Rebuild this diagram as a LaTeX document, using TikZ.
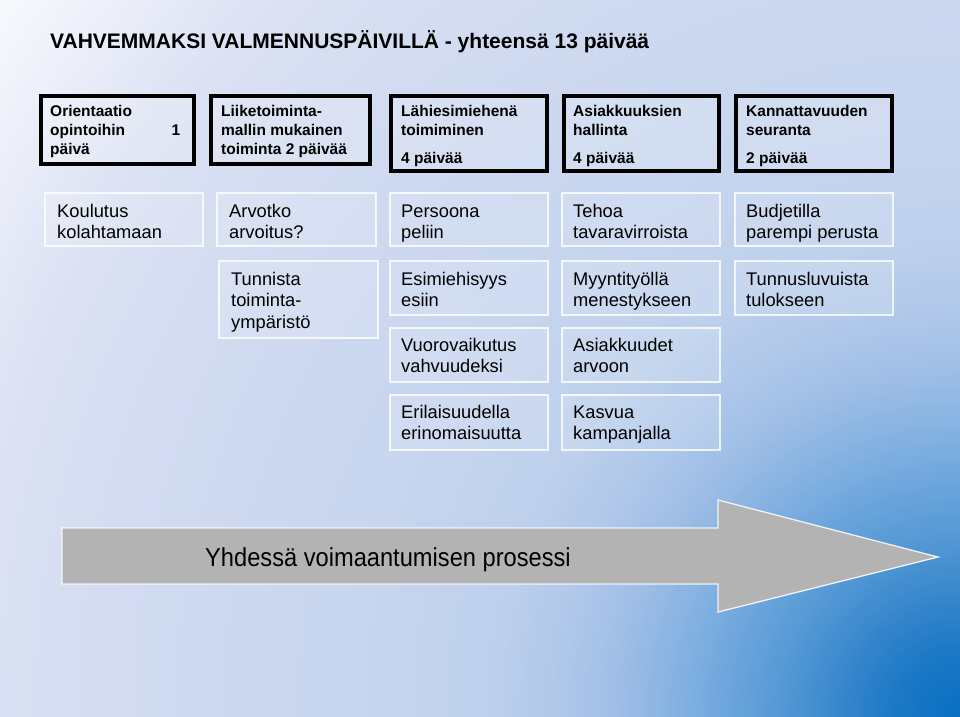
\documentclass[tikz,border=0pt]{standalone}
\usepackage{fontspec}
\usepackage{graphicx}
\setmainfont{Liberation Sans}
\definecolor{g0}{HTML}{F9FAFE}
\definecolor{g1}{HTML}{DDE3F4}
\definecolor{g2}{HTML}{D5DDF1}
\definecolor{g3}{HTML}{CCD8F0}
\definecolor{g4}{HTML}{C5D4EE}
\definecolor{g5}{HTML}{BCCFEC}
\definecolor{g6}{HTML}{B0C8EA}
\definecolor{g7}{HTML}{9FBEE6}
\definecolor{g8}{HTML}{85B2E2}
\definecolor{g9}{HTML}{6AA4DC}
\definecolor{g10}{HTML}{5096D4}
\definecolor{g11}{HTML}{3585CC}
\definecolor{g12}{HTML}{1E79C6}
\definecolor{g13}{HTML}{0870C2}
\definecolor{arrowgray}{HTML}{B3B3B3}
\begin{document}
\begin{tikzpicture}[x=1pt,y=-1pt,
  hbox/.style={draw=black, line width=4pt, fill=white, fill opacity=0.18, anchor=north west, inner sep=0pt, outer sep=0pt},
  rbox/.style={draw=white, draw opacity=0.8, line width=1.3pt, fill=white, fill opacity=0.15, anchor=north west, inner sep=0pt, outer sep=0pt},
  htxt/.style={anchor=base west, inner sep=0pt, font=\fontsize{15.5}{19}\selectfont\bfseries},
  rtxt/.style={anchor=base west, inner sep=0pt, font=\fontsize{18.3}{21.5}\selectfont},
]
\useasboundingbox (0,0) rectangle (960,716);
% background gradient (radial from the bottom right corner)
\begin{scope}
\clip (0,0) rectangle (960,716);
\fill[g0] (0,0) rectangle (960,716);
\foreach \ra/\rb/\ca/\cb in {1200/1000/g0/g1, 1000/900/g1/g2, 900/716/g2/g3, 716/563/g3/g4, 563/463/g4/g5, 463/404/g5/g6, 404/345/g6/g7, 345/286/g7/g8, 286/227/g8/g9, 227/170/g9/g10, 170/115/g10/g11, 115/70/g11/g12, 70/0/g12/g13}{
  \pgfmathtruncatemacro\N{max(2,round((\ra-\rb)/4))}
  \pgfmathtruncatemacro\Nm{\N-1}
  \foreach \k in {0,...,\Nm}{
    \pgfmathsetmacro\rr{\ra-(\ra-\rb)*\k/\N}
    \pgfmathtruncatemacro\mx{round(100*(1-(\k+0.5)/\N))}
    \colorlet{stripc}{\ca!\mx!\cb}
    \fill[stripc] (960,716) circle[radius=\rr pt];
  }
}
\end{scope}

% title
\node[anchor=base west, inner sep=0pt, font=\fontsize{21}{24}\selectfont\bfseries] (title) at (50,48) {VAHVEMMAKSI VALMENNUSPÄIVILLÄ - yhteensä 13 päivää};

% header boxes
\node[hbox, minimum width=153pt, minimum height=68pt] (h1) at (41,96) {};
\node[hbox, minimum width=159pt, minimum height=68pt] (h2) at (211,96) {};
\node[hbox, minimum width=156pt, minimum height=75pt] (h3) at (391,96) {};
\node[hbox, minimum width=155pt, minimum height=75pt] (h4) at (564,96) {};
\node[hbox, minimum width=156pt, minimum height=75pt] (h5) at (736,96) {};

\node[htxt] (h1t) at (50,116) {\parbox[t]{140pt}{\raggedright Orientaatio\\\makebox[130pt][l]{opintoihin\hfill 1}\\päivä}};
\node[htxt] (h2t) at (221,116) {\parbox[t]{150pt}{\raggedright Liiketoiminta-\\mallin mukainen\\toiminta 2 päivää}};
\node[htxt] (h3t) at (401,116) {\parbox[t]{145pt}{\raggedright Lähiesimiehenä\\toimiminen\\[9pt]4 päivää}};
\node[htxt] (h4t) at (573,116) {\parbox[t]{145pt}{\raggedright Asiakkuuksien\\hallinta\\[9pt]4 päivää}};
\node[htxt] (h5t) at (746,116) {\parbox[t]{145pt}{\raggedright Kannattavuuden\\seuranta\\[9pt]2 päivää}};

% row boxes
\node[rbox, minimum width=158pt, minimum height=53pt] (r1) at (45,193) {};
\node[rbox, minimum width=159pt, minimum height=53pt] (r2) at (217,193) {};
\node[rbox, minimum width=158pt, minimum height=53pt] (r3) at (390,193) {};
\node[rbox, minimum width=158pt, minimum height=53pt] (r4) at (562,193) {};
\node[rbox, minimum width=158pt, minimum height=53pt] (r5) at (735,193) {};
\node[rbox, minimum width=159pt, minimum height=77pt] (s2) at (219,261) {};
\node[rbox, minimum width=158pt, minimum height=54pt] (s3) at (390,261) {};
\node[rbox, minimum width=158pt, minimum height=54pt] (s4) at (562,261) {};
\node[rbox, minimum width=158pt, minimum height=54pt] (s5) at (735,261) {};
\node[rbox, minimum width=158pt, minimum height=54pt] (u3) at (390,328) {};
\node[rbox, minimum width=158pt, minimum height=54pt] (u4) at (562,328) {};
\node[rbox, minimum width=158pt, minimum height=55pt] (v3) at (390,395) {};
\node[rbox, minimum width=158pt, minimum height=55pt] (v4) at (562,395) {};

\node[rtxt] (r1t) at (57,217) {\parbox[t]{150pt}{\raggedright Koulutus\\kolahtamaan}};
\node[rtxt] (r2t) at (229,217) {\parbox[t]{150pt}{\raggedright Arvotko\\arvoitus?}};
\node[rtxt] (r3t) at (401,217) {\parbox[t]{150pt}{\raggedright Persoona\\peliin}};
\node[rtxt] (r4t) at (573,217) {\parbox[t]{150pt}{\raggedright Tehoa\\tavaravirroista}};
\node[rtxt] (r5t) at (746,217) {\parbox[t]{150pt}{\raggedright Budjetilla\\parempi perusta}};
\node[rtxt] (s2t) at (231,285) {\parbox[t]{150pt}{\raggedright Tunnista\\toiminta-\\ympäristö}};
\node[rtxt] (s3t) at (401,285) {\parbox[t]{150pt}{\raggedright Esimiehisyys\\esiin}};
\node[rtxt] (s4t) at (573,285) {\parbox[t]{150pt}{\raggedright Myyntityöllä\\menestykseen}};
\node[rtxt] (s5t) at (746,285) {\parbox[t]{150pt}{\raggedright Tunnusluvuista\\tulokseen}};
\node[rtxt] (u3t) at (401,351) {\parbox[t]{150pt}{\raggedright Vuorovaikutus\\vahvuudeksi}};
\node[rtxt] (u4t) at (573,351) {\parbox[t]{150pt}{\raggedright Asiakkuudet\\arvoon}};
\node[rtxt] (v3t) at (401,418) {\parbox[t]{150pt}{\raggedright Erilaisuudella\\erinomaisuutta}};
\node[rtxt] (v4t) at (573,418) {\parbox[t]{150pt}{\raggedright Kasvua\\kampanjalla}};

% big arrow
\fill[arrowgray, draw=white, draw opacity=0.85, line width=1.3pt, line join=miter]
  (62,528) -- (718,528) -- (718,500) -- (938,557) -- (718,612) -- (718,584) -- (62,584) -- cycle;
\node[anchor=base west, inner sep=0pt, font=\fontsize{26}{30}\selectfont] (atxt) at (205,566) {\scalebox{0.91}[1]{Yhdessä voimaantumisen prosessi}};
\end{tikzpicture}
\end{document}
